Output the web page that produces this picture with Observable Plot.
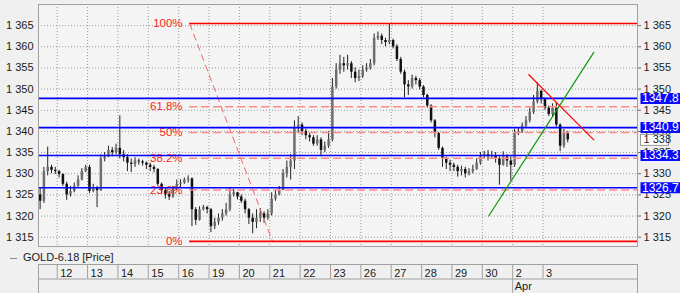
<!DOCTYPE html>
<html><head><meta charset="utf-8">
<script src="https://cdn.jsdelivr.net/npm/d3@7"></script>
<script src="https://cdn.jsdelivr.net/npm/@observablehq/plot@0.6"></script>
<style>
html,body{margin:0;padding:0;background:#f0f0f0;}
#chart{width:680px;height:293px;overflow:hidden;font-family:"Liberation Sans",Arial,sans-serif;}
#chart svg{display:block;overflow:visible}
#legend{height:14px;line-height:14px;font-size:11px;color:#1a1a1a;padding-left:10px;white-space:nowrap}
#legend .dash{display:inline-block;width:7px;height:0;border-top:1px solid #888;vertical-align:middle;margin-right:6px}
</style></head><body><div id="chart"></div>
<script>
// ---- data ----
const dayLabels = ["9","12","13","14","15","16","19","20","21","22","23","26","27","28","29","30","2","3"];
const monthLabels = [{day: "2", text: "Apr"}];
const seriesName = "GOLD-6.18 [Price]";
const open0 = 1325;
const close = [
  [1323.5,1330.5,1331.5,1330.8,1330.5],
  [1329.8,1327.5,1325,1325.8,1327,1328.5,1330.5,1331.5],
  [1325.8,1326.5,1326,1333.5,1334,1335.5,1335,1336],
  [1334.5,1333.8,1332.5,1332.2,1333,1332.8,1332.5,1332],
  [1331.5,1331,1327.5,1326,1325,1324.5,1326.5,1327.5],
  [1327.8,1328.5,1328.8,1321.5,1319,1321.5,1322,1321.5],
  [1317.5,1318.5,1319.5,1320.5,1321.5,1325,1325.5,1324.5],
  [1323.5,1321.5,1319.5,1318.5,1319.5,1320.5,1319.5,1320.5],
  [1324,1325,1326,1330,1331.5,1333,1341,1341.5],
  [1340,1339,1338.5,1337,1338,1335.5,1336.5,1338],
  [1350.5,1354.5,1356,1355.5,1356,1354,1352.5,1353],
  [1354.5,1355,1356,1362,1362.5,1361.5,1361,1361.5],
  [1360,1357,1354,1351,1350.5,1352.5,1352,1350.5],
  [1348.5,1346,1342.5,1339.5,1336,1333.5,1332.5,1332],
  [1331.5,1330.5,1331,1330,1330.5,1331,1332.5,1334],
  [1334.5,1334,1334.3,1333.5,1332,1334,1333,1332],
  [1339.5,1340,1341.3,1342.5,1344.5,1347,1349.5,1347.5],
  [1345.5,1344,1345.5,1341.5,1336.5,1339.5,1338]
];
const high = [
  [1326.5,1331.5,1336.3,1332,1331.5],
  [1330.8,1330,1328,1327,1327.8,1329.5,1331.2,1332],
  [1332,1327.5,1327,1334.5,1335,1336.5,1336.2,1337],
  [1343.7,1335.5,1334.5,1333.5,1333.8,1333.5,1333.2,1332.8],
  [1332.5,1332,1331.2,1327.8,1326.5,1325.8,1327,1328.5],
  [1328.6,1329,1329.5,1329,1322,1322.2,1322.5,1322.3],
  [1321.8,1319.5,1320.5,1321.5,1323,1326.5,1326.3,1325.6],
  [1325,1324,1321.8,1320.5,1321.5,1321.8,1321,1321.5],
  [1325.5,1326,1327,1331,1333,1334.5,1342.5,1343.5],
  [1342,1340.5,1339.7,1339,1339,1338.5,1337.5,1340],
  [1352.5,1356,1358,1357.5,1358,1356.5,1355,1354.5],
  [1355.5,1356,1357,1363,1363.5,1363,1362,1365.3],
  [1361.8,1360.5,1357.5,1354.5,1352,1353.3,1353,1352.5],
  [1350.8,1348.8,1346.3,1342.8,1339.8,1336.3,1334,1333.2],
  [1332.5,1332,1331.8,1331.5,1331.2,1332,1333.5,1335],
  [1335.3,1335.5,1335.3,1335,1334,1335.2,1334.5,1334],
  [1340.5,1340.8,1342,1343.5,1345.5,1348.5,1351.5,1349.8],
  [1347.8,1346,1346.5,1346.8,1341.8,1340.5,1340]
];
const low = [
  [1321.5,1323,1329.5,1330,1329.8],
  [1329,1327,1323.7,1324.5,1325.5,1326.8,1328.3,1330.3],
  [1325.3,1325.5,1322,1325.8,1332.8,1333.8,1334,1334.5],
  [1333.5,1332.8,1330.5,1330.3,1331.5,1332,1331.8,1331],
  [1330.5,1330.2,1327,1325.2,1324,1323.7,1324.2,1326],
  [1326.5,1327.5,1327.8,1317.5,1317.8,1318.8,1321.2,1320.5],
  [1316.1,1316.8,1317.8,1318.8,1320,1321,1324.5,1323.8],
  [1323,1320.5,1318,1315.8,1317,1318.5,1318.3,1319],
  [1320,1323.5,1324.8,1326,1329,1328.5,1331,1339.5],
  [1339,1338,1337.5,1336.5,1336.5,1334,1335,1336],
  [1337.5,1350,1353.5,1354,1354.5,1352.5,1351.5,1351.8],
  [1352.5,1354,1354.5,1355.5,1361.5,1360.5,1360,1360.5],
  [1359.5,1356.5,1353.5,1348,1348.5,1350,1351,1349.8],
  [1348,1345.5,1342,1338.5,1335.5,1331.5,1331,1330.5],
  [1330.5,1329.2,1329.5,1329,1329.5,1330,1330.8,1332],
  [1333.5,1333,1333.5,1332.5,1327.3,1331.8,1331.5,1328.3],
  [1331.5,1339,1339.5,1340.8,1342,1344,1346.5,1346.5],
  [1345,1343.5,1343.3,1341,1335.2,1336,1337.3]
];
const priceLevels = [1347.8, 1340.9, 1334.3, 1326.7];
const lastPrice = 1338;
const fibHigh = 1365.5, fibLow = 1314.0;
const fibRatios = [1, 0.618, 0.5, 0.382, 0.236, 0];
const fibLabels = ["100%", "61.8%", "50%", "38.2%", "23.6%", "0%"];
const fibStartT = 4.36, fibLowT = 7.09;              // session-day positions of the fib anchors
const greenTrend = [{t: 14.21, v: 1320}, {t: 17.67, v: 1358.7}];
const redTrend = [{t: 15.53, v: 1353.4}, {t: 17.67, v: 1338}];
const yTicks = [1315, 1320, 1325, 1330, 1335, 1340, 1345, 1350, 1355, 1360, 1365];
const xDomain = [-0.616, 19.11];
const yDomain = [1312.8, 1370];
const barsPerDay = 8;

// ---- derived ----
const bars = [];
let prev = open0;
close.forEach((dayC, d) => {
  const offset = d === 0 ? barsPerDay - dayC.length : 0;
  dayC.forEach((c, j) => {
    bars.push({t: (d - 1) + (offset + j + 0.5) / barsPerDay, o: prev, h: high[d][j], l: low[d][j], c});
    prev = c;
  });
});
const days = dayLabels.map((label, i) => ({t: i - 1, label})).filter(d => d.t >= xDomain[0]);
const months = monthLabels.map(m => ({t: dayLabels.indexOf(m.day) - 1, text: m.text}));
const fibs = fibRatios.map((r, i) => ({v: fibLow + r * (fibHigh - fibLow), label: fibLabels[i], solid: r === 0 || r === 1}));
const locale = d3.formatLocale({decimal: ".", thousands: " ", grouping: [3], currency: ["", ""]});
const fmt = locale.format(",");
const xMax = xDomain[1], xMin = xDomain[0];
const font = "Liberation Sans, Arial, sans-serif";

const main = Plot.plot({
  width: 680, height: 250,
  marginTop: 4, marginBottom: 4, marginLeft: 38, marginRight: 43,
  style: {background: "transparent", fontFamily: font, fontSize: "11px", color: "#1a1a1a", overflow: "visible"},
  x: {domain: xDomain, axis: null},
  y: {domain: yDomain, axis: null},
  marks: [
    Plot.frame({fill: "#f4f4f4", stroke: null}),
    Plot.ruleY(yTicks, {stroke: "#9a9a9a", strokeDasharray: "1,2"}),
    Plot.ruleX(days, {x: "t", stroke: "#9a9a9a", strokeDasharray: "1,2"}),
    // candles
    Plot.ruleX(bars, {x: "t", y1: "l", y2: "h", stroke: "#222", strokeWidth: 1}),
    Plot.ruleX(bars, {x: "t", y1: "o", y2: "c", stroke: d => d.c >= d.o ? "#6e6e6e" : "#111", strokeWidth: 2.5}),
    // fibonacci
    Plot.link([0], {x1: () => fibStartT, y1: () => fibHigh, x2: () => fibLowT, y2: () => fibLow, stroke: "#f06868", strokeWidth: 1, strokeDasharray: "7,4"}),
    Plot.ruleY(fibs.filter(d => !d.solid), {y: "v", x1: () => fibStartT, x2: () => xMax, stroke: "#ff8a8a", strokeWidth: 1.6, strokeDasharray: "8,4"}),
    Plot.ruleY(fibs.filter(d => d.solid), {y: "v", x1: () => fibStartT, x2: () => xMax, stroke: "#ff0000", strokeWidth: 1.6}),
    Plot.text(fibs, {x: () => fibStartT, y: "v", text: "label", textAnchor: "end", dx: -7, fill: "#ff1e1e", fontSize: 11.5}),
    // horizontal price levels
    Plot.ruleY(priceLevels, {x1: () => xMin, x2: () => xMax, stroke: "#0000ff", strokeWidth: 1.6}),
    // trend lines
    Plot.line(greenTrend, {x: "t", y: "v", stroke: "#109a10", strokeWidth: 1.2}),
    Plot.line(redTrend, {x: "t", y: "v", stroke: "#ff0000", strokeWidth: 1.2}),
    Plot.frame({stroke: "#a0a0a0"}),
    Plot.axisY(yTicks, {anchor: "left", tickSize: 0, tickPadding: 5, tickFormat: fmt, fontSize: 11}),
    Plot.axisY(yTicks, {anchor: "right", tickSize: 3, tickPadding: 3, tickFormat: fmt, fontSize: 11, stroke: "#666"}),
    // last price box
    Plot.ruleY([lastPrice], {x1: () => xMax, x2: () => xMax, insetLeft: 3, insetRight: -32, stroke: "#999", strokeWidth: 12}),
    Plot.ruleY([lastPrice], {x1: () => xMax, x2: () => xMax, insetLeft: 4, insetRight: -31, stroke: "#ffffff", strokeWidth: 10}),
    Plot.text([lastPrice], {x: () => xMax, y: d => d, text: d => fmt(d), textAnchor: "start", dx: 6, fill: "#1a1a1a", fontSize: 11}),
    // level boxes
    Plot.ruleY(priceLevels, {x1: () => xMax, x2: () => xMax, insetLeft: 3.5, insetRight: -45, stroke: "#0a0aff", strokeWidth: 11}),
    Plot.text(priceLevels, {x: () => xMax, y: d => d, text: d => d.toFixed(1), textAnchor: "start", dx: 4.5, fill: "#ffffff", fontSize: 12})
  ]
});

const strip = Plot.plot({
  width: 680, height: 29,
  marginTop: 0, marginBottom: 0, marginLeft: 38, marginRight: 43,
  style: {background: "transparent", fontFamily: font, fontSize: "11px", color: "#1a1a1a", overflow: "visible"},
  x: {domain: xDomain, axis: null},
  y: {domain: [0, 2], range: [0, 29], axis: null},
  marks: [
    Plot.ruleY([0, 1], {x1: () => xMin, x2: () => xMax, stroke: "#a0a0a0"}),
    Plot.ruleX([xMin, xMax], {y1: 0, y2: 2, stroke: "#a0a0a0"}),
    Plot.ruleX(days, {x: "t", y1: 0, y2: 1, stroke: "#a0a0a0"}),
    Plot.ruleX(months, {x: "t", y1: 1, y2: 2, stroke: "#a0a0a0"}),
    Plot.text(days, {x: "t", y: () => 0.5, text: "label", textAnchor: "start", dx: 3, dy: 1.5, fontSize: 11}),
    Plot.text(months, {x: "t", y: () => 1.5, text: "text", textAnchor: "start", dx: 2, dy: 0, fontSize: 11})
  ]
});

const root = document.getElementById("chart");
root.appendChild(main);
const legend = document.createElement("div");
legend.id = "legend";
legend.innerHTML = '<span class="dash"></span>' + seriesName;
root.appendChild(legend);
root.appendChild(strip);
</script></body></html>
